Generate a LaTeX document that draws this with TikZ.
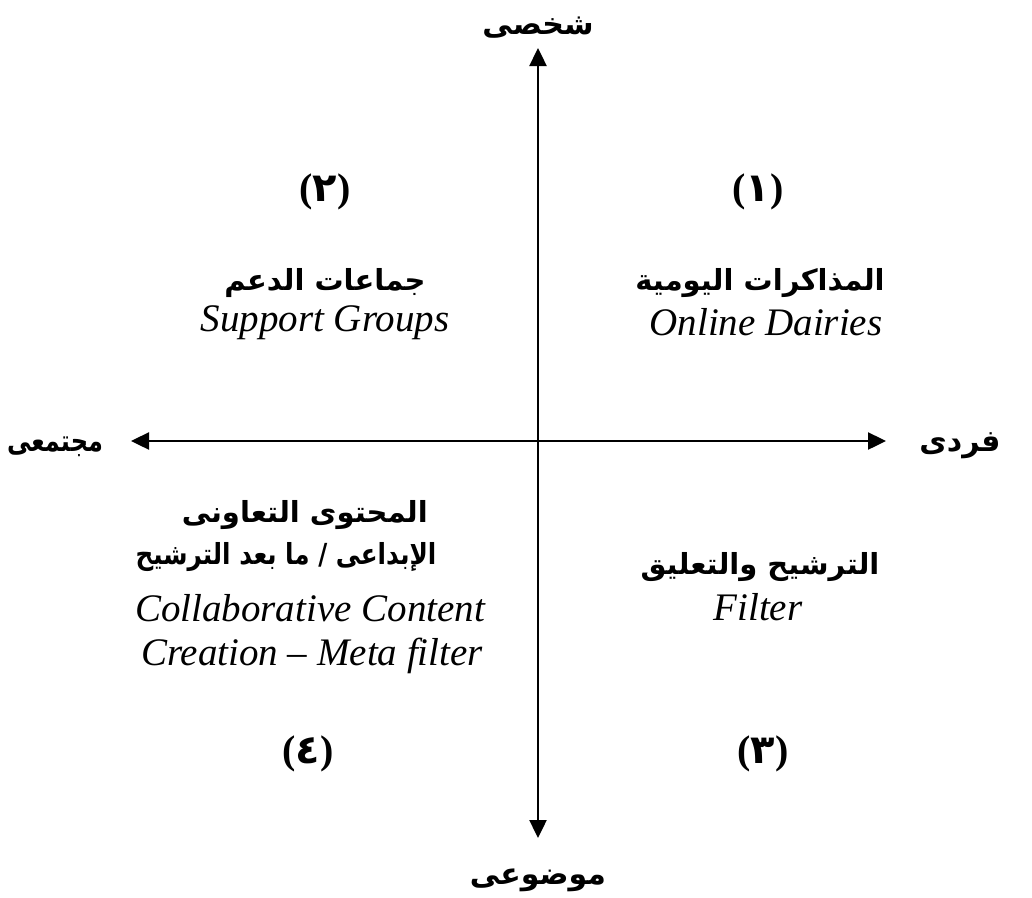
\documentclass[tikz,border=0pt]{standalone}
\usepackage{fontspec}
\usepackage{graphicx}
\setmainfont{Liberation Serif}
\newfontfamily\arabicfont[Script=Arabic]{DejaVu Sans}
\TeXXeTstate=1
\usetikzlibrary{arrows.meta}
\tikzset{
  ar/.style={font=\arabicfont\bfseries\fontsize{29}{32}\selectfont, inner sep=0pt, anchor=base},
  en/.style={font=\rmfamily\itshape\fontsize{39}{44}\selectfont, inner sep=0pt, anchor=base},
  num/.style={font=\fontsize{40}{44}\selectfont, inner sep=0pt, anchor=base},
  axislabel/.style={font=\arabicfont\bfseries\fontsize{30}{34}\selectfont, inner sep=0pt, anchor=base},
  axisline/.style={line width=2.4pt, {Triangle[width=17pt,length=18pt]}-{Triangle[width=17pt,length=18pt]}},
}
\newcommand{\qnum}[1]{{\rmfamily\bfseries(}{\arabicfont\bfseries #1}{\rmfamily\bfseries)}}
\begin{document}
\begin{tikzpicture}[x=1pt,y=-1pt]
\useasboundingbox (0,0) rectangle (1032,897);
% axes
\coordinate (ytop) at (538,48);
\coordinate (ybot) at (538,838);
\coordinate (xleft) at (131,441);
\coordinate (xright) at (886,441);
\draw[axisline] (ybot) -- (ytop);
\draw[axisline] (xleft) -- (xright);
% axis labels
\node[axislabel] (lt) at (538,34) {\beginR شخصى\endR};
\node[axislabel] (lb) at (538,884) {\beginR موضوعى\endR};
\node[axislabel] (ll) at (55,451) {\scalebox{0.8}[1]{\beginR مجتمعى\endR}};
\node[axislabel] (lr) at (960,451) {\beginR فردى\endR};
% quadrant numbers
\node[num] (n1) at (758,201) {\qnum{١}};
\node[num] (n2) at (325,201) {\qnum{٢}};
\node[num] (n3) at (763,763) {\qnum{٣}};
\node[num] (n4) at (308,763) {\qnum{٤}};
% quadrant 1
\node[ar] (q1a) at (760,290) {\beginR المذاكرات اليومية\endR};
\node[en] (q1b) at (766,335) {Online Dairies};
% quadrant 2
\node[ar] (q2a) at (325,290) {\beginR جماعات الدعم\endR};
\node[en] (q2b) at (325,331) {Support Groups};
% quadrant 3
\node[ar] (q3a) at (760,574) {\beginR الترشيح والتعليق\endR};
\node[en] (q3b) at (758,620) {Filter};
% quadrant 4
\node[ar, anchor=base east] (q4a) at (428,522) {\beginR المحتوى التعاونى\endR};
\node[ar] (q4b) at (286,564) {\scalebox{0.85}[1]{\beginR الإبداعى / ما بعد الترشيح\endR}};
\node[en] (q4c) at (310,621) {Collaborative Content};
\node[en] (q4d) at (312,665) {Creation -- Meta filter};
\end{tikzpicture}
\end{document}
